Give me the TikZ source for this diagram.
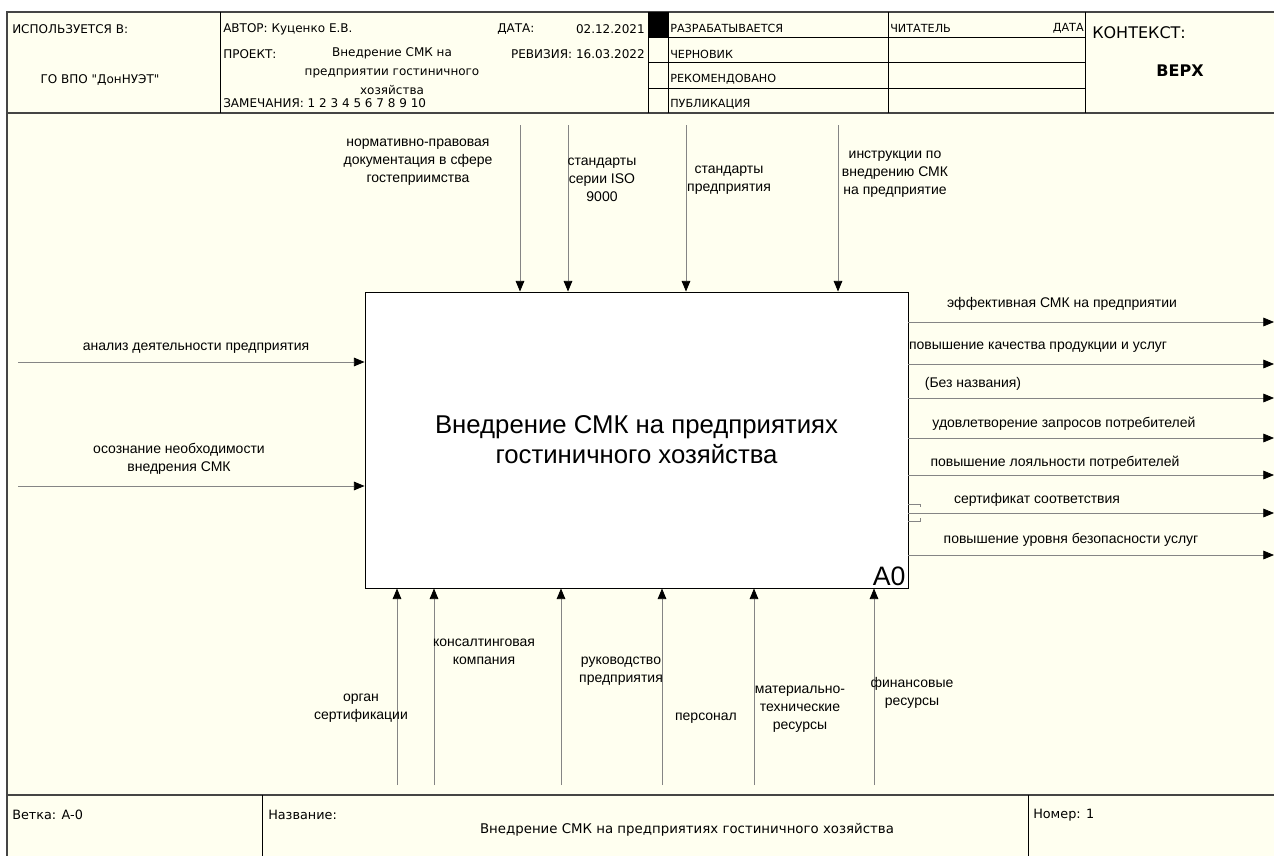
\documentclass[tikz,border=0pt]{standalone}
\usepackage{fontspec}
\setmainfont{Liberation Sans}
\newfontfamily\formfont{DejaVu Sans}
\usetikzlibrary{arrows.meta}
\definecolor{idefbg}{HTML}{FFFFF0}
\definecolor{framegray}{HTML}{454545}
\definecolor{arrowgray}{HTML}{858585}

\begin{document}
\begin{tikzpicture}[x=0.75pt,y=-0.75pt,
  form/.style={font=\formfont\fontsize{9}{14.5}\selectfont, inner sep=0pt, align=center},
  lbl/.style={font=\fontsize{10.5}{13.3}\selectfont, align=center, inner sep=0pt},
  func/.style={draw=black, fill=white, line width=0.7pt, minimum width=407.25pt,
    minimum height=222pt, align=center, font=\fontsize{19.3}{22.5}\selectfont},
  arc/.style={color=arrowgray, line width=0.6pt,
    -{Triangle[length=8pt,width=6.5pt,color=black,fill=black]}},
  frame/.style={draw=framegray, line width=0.9pt},
  grid/.style={draw=black, line width=0.6pt}]

\useasboundingbox (0,0) rectangle (1274,856);
\fill[idefbg] (7,12) rectangle (1274,856);

% form: header
\draw[frame] (1274,12) -- (7,12) -- (7,856);
\draw[frame] (7,113) -- (1274,113);
\draw[grid] (220,12) -- (220,113) (648,12) -- (648,113) (668,12) -- (668,113)
  (888,12) -- (888,113) (1085,12) -- (1085,113);
\draw[grid] (648,37) -- (1085,37) (648,62) -- (1085,62) (648,88) -- (1085,88);
\fill (648,12) rectangle (668,37);

\node[form, anchor=west] (used) at (12,29) {ИСПОЛЬЗУЕТСЯ В:};
\node[form] (org) at (100,80) {ГО ВПО "ДонНУЭТ"};
\node[form, anchor=west] (author) at (223,29) {АВТОР: Куценко Е.В.};
\node[form, anchor=west] (proj) at (223,54) {ПРОЕКТ:};
\node[form, anchor=north] (projname) at (392,47) {Внедрение СМК на\\предприятии гостиничного\\хозяйства};
\node[form, anchor=west] (notes) at (223,103) {ЗАМЕЧАНИЯ: 1 2 3 4 5 6 7 8 9 10};
\node[form, anchor=west] (date) at (497,29) {ДАТА:};
\node[form, anchor=east] (dateval) at (645,29) {02.12.2021};
\node[form, anchor=east] (rev) at (645,54) {РЕВИЗИЯ: 16.03.2022};
\node[form, anchor=west, font=\formfont\fontsize{8.4}{10}\selectfont] (st1) at (670,28) {РАЗРАБАТЫВАЕТСЯ};
\node[form, anchor=west, font=\formfont\fontsize{8.4}{10}\selectfont] (st2) at (670,54) {ЧЕРНОВИК};
\node[form, anchor=west, font=\formfont\fontsize{8.4}{10}\selectfont] (st3) at (670,79) {РЕКОМЕНДОВАНО};
\node[form, anchor=west, font=\formfont\fontsize{8.4}{10}\selectfont] (st4) at (670,104) {ПУБЛИКАЦИЯ};
\node[form, anchor=west, font=\formfont\fontsize{8.4}{10}\selectfont] (reader) at (890,28) {ЧИТАТЕЛЬ};
\node[form, anchor=east, font=\formfont\fontsize{8.4}{10}\selectfont] (rdate) at (1084,28) {ДАТА};
\node[form, anchor=west, font=\formfont\fontsize{12}{14}\selectfont] (ctx) at (1092,33) {КОНТЕКСТ:};
\node[form, font=\formfont\bfseries\fontsize{12}{14}\selectfont] (top) at (1180,71) {ВЕРХ};

% function block
\node[func] (F) at (636.5,440) {Внедрение СМК на предприятиях\\гостиничного хозяйства};
\node[anchor=south east, inner sep=2pt, font=\fontsize{20}{22}\selectfont] (Fnum) at (F.south east) {A0};

% controls
\foreach \x [count=\i] in {520,568,686,838} \coordinate (c\i) at (\x,125);
\foreach \i in {1,...,4} \path[arc] (c\i) edge (c\i |- F.north);
\node[lbl] (lc1) at (418,162) {нормативно-правовая\\документация в сфере\\гостеприимства};
\node[lbl] (lc2) at (602,180) {стандарты\\серии ISO\\9000};
\node[lbl] (lc3) at (729,180) {стандарты\\предприятия};
\node[lbl] (lc4) at (895,174) {инструкции по\\внедрению СМК\\на предприятие};

% inputs
\coordinate (i1) at (18,362);
\coordinate (i2) at (18,486);
\path[arc] (i1) edge (i1 -| F.west)
           (i2) edge (i2 -| F.west);
\node[lbl] (li1) at (196,348) {анализ деятельности предприятия};
\node[lbl] (li2) at (179,459) {осознание необходимости\\внедрения СМК};

% outputs
\foreach \y [count=\i] in {322,364,398,438,475,513,555} \coordinate (o\i) at (1274,\y);
\foreach \i in {1,...,7} \path[arc] (F.east |- o\i) edge (o\i);
\node[lbl] (lo1) at (1062,304) {эффективная СМК на предприятии};
\node[lbl] (lo2) at (1038,347) {повышение качества продукции и услуг};
\node[lbl] (lo3) at (973,384) {(Без названия)};
\node[lbl] (lo4) at (1064,424) {удовлетворение запросов потребителей};
\node[lbl] (lo5) at (1055,463) {повышение лояльности потребителей};
\node[lbl] (lo6) at (1037,500) {сертификат соответствия};
\node[lbl] (lo7) at (1071,540) {повышение уровня безопасности услуг};
\draw[arrowgray, line width=0.4pt] (F.east |- o6) ++(0,-9) -- ++(12,0) -- ++(0,3)
  (F.east |- o6) ++(0,8) -- ++(12,0) -- ++(0,-3);

% mechanisms
\foreach \x [count=\i] in {397,434,561,662,754,874} \coordinate (m\i) at (\x,785);
\foreach \i in {1,...,6} \path[arc] (m\i) edge (m\i |- F.south);
\node[lbl] (lm1) at (361,708) {орган\\сертификации};
\node[lbl] (lm2) at (484,652) {консалтинговая\\компания};
\node[lbl] (lm3) at (621,671) {руководство\\предприятия};
\node[lbl] (lm4) at (706,718) {персонал};
\node[lbl] (lm5) at (800,709) {материально-\\технические\\ресурсы};
\node[lbl] (lm6) at (912,693) {финансовые\\ресурсы};

% form: footer
\draw[frame] (7,795) -- (1274,795);
\draw[grid] (262,795) -- (262,856) (1028,795) -- (1028,856);
\node[form, anchor=west, font=\formfont\fontsize{9.6}{11}\selectfont] (branch) at (12,815) {Ветка: A-0};
\node[form, anchor=west, font=\formfont\fontsize{9.6}{11}\selectfont] (name) at (268,815) {Название:};
\node[form, font=\formfont\fontsize{10}{12}\selectfont] (title) at (687,830) {Внедрение СМК на предприятиях гостиничного хозяйства};
\node[form, anchor=west, font=\formfont\fontsize{9.6}{11}\selectfont] (num) at (1033,815) {Номер: 1};
\end{tikzpicture}
\end{document}
